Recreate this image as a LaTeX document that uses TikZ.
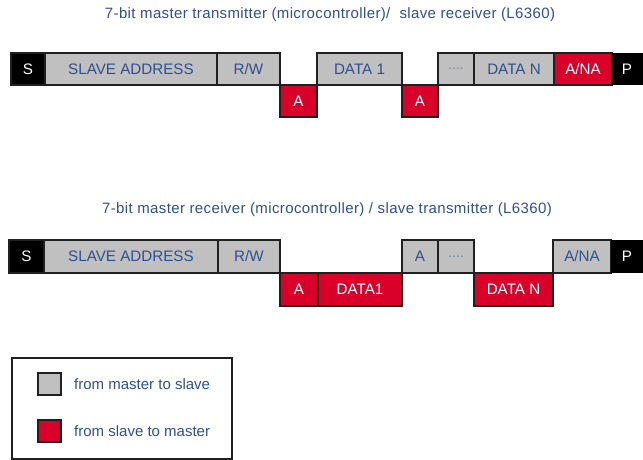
\documentclass[tikz,border=0pt]{standalone}
\usepackage{fontspec}
\setmainfont{Liberation Sans}
\definecolor{txtblue}{HTML}{2F4F8F}
\definecolor{dotblue}{HTML}{6F85B0}
\definecolor{ackred}{HTML}{D9002A}
\definecolor{boxgray}{HTML}{C0C0C0}
\definecolor{edge}{HTML}{202020}
\tikzset{
  fld/.style={draw=edge, line width=1.3pt, inner sep=0pt, outer sep=0pt, font=\fontsize{15.2}{17}\selectfont},
  mbox/.style={fld, fill=boxgray, text=txtblue},
  sbox/.style={fld, fill=ackred, text=white},
  cbox/.style={fld, fill=black, text=white},
  ttl/.style={text=txtblue, font=\fontsize{15}{17}\selectfont\addfontfeature{LetterSpace=2.5}},
  lgtext/.style={anchor=west, text=txtblue, font=\fontsize{15}{17}\selectfont, inner sep=0pt},
}
% field macro: name, x1, y1, x2, y2, style, text
\newcommand{\fieldbox}[7]{%
  \node[#6, minimum width={(#4-#2)*1pt}, minimum height={(#5-#3)*1pt}, anchor=north west] (#1) at (#2,#3) {#7};}
\begin{document}
\begin{tikzpicture}[x=1pt,y=-1pt]
\useasboundingbox (0,0) rectangle (643,460);
% Title 1
\node[ttl] (t1) at (330,15) {7-bit master transmitter (microcontroller)/\ \ slave receiver (L6360)};
% Row 1
\fieldbox{s1}{11}{53}{45}{85}{cbox}{S}
\fieldbox{sa1}{45}{53}{217}{85}{mbox}{SLAVE ADDRESS}
\fieldbox{rw1}{217}{53}{280}{85}{mbox}{R/W}
\fieldbox{a1}{280}{85}{317}{117}{sbox}{A}
\fieldbox{d1}{317}{53}{402}{85}{mbox}{DATA 1}
\fieldbox{a2}{402}{85}{438}{117}{sbox}{A}
\fieldbox{dots1}{438}{53}{474}{85}{mbox}{\color{dotblue}\fontsize{14}{15}\selectfont ....}
\fieldbox{dn1}{474}{53}{554}{85}{mbox}{DATA N}
\fieldbox{ana1}{554}{53}{612}{85}{sbox}{A/NA}
\fill[black] (612,53) rectangle (643,85);
\node[text=white, font=\fontsize{15.2}{17}\selectfont] (p1) at (627,69) {P};
% Title 2
\node[ttl] (t2) at (327,210) {7-bit master receiver (microcontroller) / slave transmitter (L6360)};
% Row 2
\fieldbox{s2}{9}{240}{44}{273}{cbox}{S}
\fieldbox{sa2}{44}{240}{218}{273}{mbox}{SLAVE ADDRESS}
\fieldbox{rw2}{218}{240}{280}{273}{mbox}{R/W}
\fieldbox{a3}{280}{273}{318}{306}{sbox}{A}
\fieldbox{d2}{318}{273}{402}{306}{sbox}{DATA1}
\fieldbox{a4}{402}{240}{438}{273}{mbox}{A}
\fieldbox{dots2}{438}{240}{474}{273}{mbox}{\color{dotblue}\fontsize{14}{15}\selectfont ....}
\fieldbox{dn2}{474}{273}{553}{306}{sbox}{DATA N}
\fieldbox{ana2}{553}{240}{611}{273}{mbox}{A/NA}
\fill[black] (611,240) rectangle (643,273);
\node[text=white, font=\fontsize{15.2}{17}\selectfont] (p2) at (627,256.5) {P};
% Legend
\draw[edge, line width=1.3pt] (12,358) rectangle (232,459);
\fieldbox{lg}{38}{373}{61}{395}{mbox}{}
\fieldbox{lr}{38}{420}{61}{442}{sbox}{}
\node[lgtext] (lgt) at (74,384) {from master to slave};
\node[lgtext] (lrt) at (74,431) {from slave to master};
\end{tikzpicture}
\end{document}
